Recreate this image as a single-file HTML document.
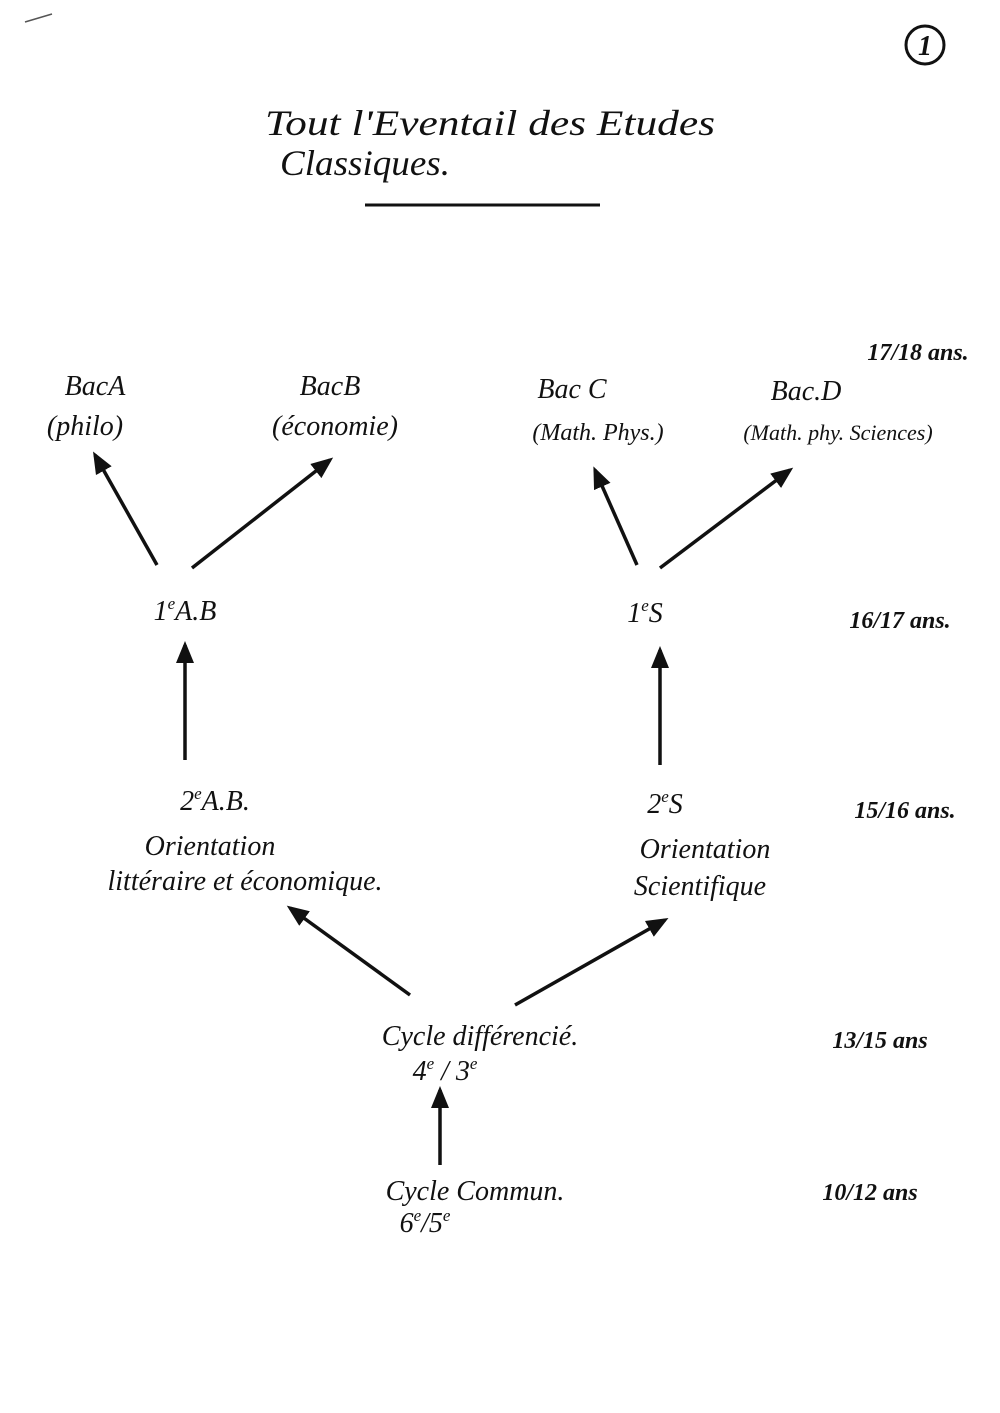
<!DOCTYPE html>
<html><head><meta charset="utf-8"><style>
html,body{margin:0;padding:0;background:#fff}
svg{display:block}
text{font-family:"Liberation Serif",serif;font-style:italic;fill:#111}
</style></head><body>
<svg width="1000" height="1413" viewBox="0 0 1000 1413" xmlns="http://www.w3.org/2000/svg">
<defs>
<marker id="b" markerWidth="22" markerHeight="22" refX="18" refY="11" orient="auto" markerUnits="userSpaceOnUse"><path d="M0,2 L22,11 L0,20 z" fill="#111"/></marker></defs>
<line x1="25" y1="22" x2="52" y2="14" stroke="#555" stroke-width="1.5"/>
<circle cx="925" cy="45" r="19" fill="none" stroke="#111" stroke-width="3"/>
<text x="925" y="55" font-size="28" text-anchor="middle" font-weight="bold">1</text>
<text x="265" y="135" font-size="36" textLength="450" lengthAdjust="spacingAndGlyphs">Tout l'Eventail des Etudes</text>
<text x="280" y="175" font-size="36" textLength="170" lengthAdjust="spacingAndGlyphs">Classiques.</text>
<line x1="365" y1="205" x2="600" y2="205" stroke="#111" stroke-width="3"/>
<g font-size="28" text-anchor="middle">
<text x="95" y="395">BacA</text><text x="85" y="435">(philo)</text>
<text x="330" y="395">BacB</text><text x="335" y="435">(économie)</text>
<text x="572" y="398">Bac C</text><text x="598" y="440" font-size="24">(Math. Phys.)</text>
<text x="806" y="400">Bac.D</text><text x="838" y="440" font-size="22">(Math. phy. Sciences)</text>
<text x="185" y="620">1<tspan font-size="17" dy="-11">e</tspan><tspan dy="11">A.B</tspan></text>
<text x="645" y="622">1<tspan font-size="17" dy="-11">e</tspan><tspan dy="11">S</tspan></text>
<text x="215" y="810">2<tspan font-size="17" dy="-11">e</tspan><tspan dy="11">A.B.</tspan></text>
<text x="210" y="855">Orientation</text><text x="245" y="890">littéraire et économique.</text>
<text x="665" y="813">2<tspan font-size="17" dy="-11">e</tspan><tspan dy="11">S</tspan></text>
<text x="705" y="858">Orientation</text><text x="700" y="895">Scientifique</text>
<text x="480" y="1045">Cycle différencié.</text>
<text x="445" y="1080">4<tspan font-size="17" dy="-11">e</tspan><tspan dy="11"> / 3</tspan><tspan font-size="17" dy="-11">e</tspan></text>
<text x="475" y="1200">Cycle Commun.</text>
<text x="425" y="1232">6<tspan font-size="17" dy="-11">e</tspan><tspan dy="11">/5</tspan><tspan font-size="17" dy="-11">e</tspan></text>
</g>
<g font-size="24" text-anchor="middle" font-weight="bold">
<text x="918" y="360">17/18 ans.</text>
<text x="900" y="628">16/17 ans.</text>
<text x="905" y="818">15/16 ans.</text>
<text x="880" y="1048">13/15 ans</text>
<text x="870" y="1200">10/12 ans</text>
</g>
<g stroke="#111" stroke-width="3.5" marker-end="url(#b)">
<line x1="157" y1="565" x2="95" y2="455"/>
<line x1="192" y1="568" x2="330" y2="460"/>
<line x1="637" y1="565" x2="595" y2="470"/>
<line x1="660" y1="568" x2="790" y2="470"/>
<line x1="185" y1="760" x2="185" y2="645"/>
<line x1="660" y1="765" x2="660" y2="650"/>
<line x1="410" y1="995" x2="290" y2="908"/>
<line x1="515" y1="1005" x2="665" y2="920"/>
<line x1="440" y1="1165" x2="440" y2="1090"/>
</g>
</svg>
</body></html>
